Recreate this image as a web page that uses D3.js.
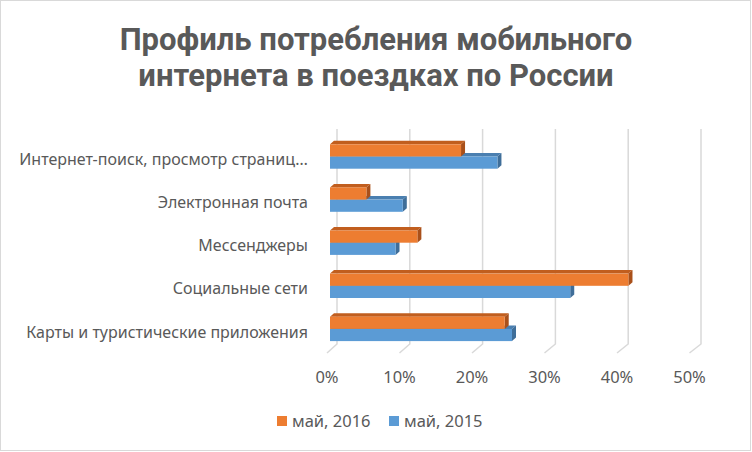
<!DOCTYPE html>
<html>
<head>
<meta charset="utf-8">
<script src="https://cdn.jsdelivr.net/npm/d3@7"></script>
<style>
  body { margin: 0; background: #fff; }
  text { fill: #595959; }
</style>
</head>
<body>
<div class="canvas"></div>
<script>
// data (top to bottom as shown)
const categories = [
  'Интернет-поиск, просмотр страниц…',
  'Электронная почта',
  'Мессенджеры',
  'Социальные сети',
  'Карты и туристические приложения'
];
const seriesNames = ['май, 2016', 'май, 2015'];
const may2016 = [0.18, 0.05, 0.12, 0.41, 0.24];
const may2015 = [0.23, 0.10, 0.09, 0.33, 0.25];
const ticks = [0, 0.1, 0.2, 0.3, 0.4, 0.5];

const dims = { width: 752, height: 452 };
const face = { '2016': '#ED7D31', '2015': '#5B9BD5' };
const top_ = { '2016': '#C15E1E', '2015': '#4A7FB0' };
const side = { '2016': '#A9501A', '2015': '#3F6E99' };
const depth = { dx: 4, dy: -3.5 };   // bar depth
const wall = { dx: 7, yTop: 129, yBot: 344 };  // back wall grid

const svg = d3.select('.canvas')
  .append('svg')
  .attr('width', dims.width)
  .attr('height', dims.height)
  .style('font-family', '"Noto Sans", sans-serif');

// chart border
svg.append('rect')
  .attr('x', 0.5).attr('y', 0.5)
  .attr('width', 750).attr('height', 450)
  .attr('fill', '#fff')
  .attr('stroke', '#d9d9d9');

// title
const title = svg.append('text')
  .attr('x', 376)
  .attr('text-anchor', 'middle')
  .style('font-family', 'Roboto, sans-serif')
  .style('font-weight', 'bold')
  .style('font-size', '31px');
title.append('tspan').attr('x', 376).attr('y', 50).text('Профиль потребления мобильного');
title.append('tspan').attr('x', 376).attr('y', 86).text('интернета в поездках по России');

// scales (bar front face)
const x = d3.scaleLinear().domain([0, 0.5]).range([330, 694]);
const xFloor = d3.scaleLinear().domain([0, 0.5]).range([327, 689.5]);

const y = d3.scaleBand()
  .domain(categories)
  .range([134.95, 350.45])
  .paddingInner(0.434)
  .paddingOuter(0.217);

const ySub = d3.scaleBand()
  .domain(['2016', '2015'])
  .range([0, y.bandwidth()]);

// gridlines on back wall + floor
const grid = svg.append('g');
ticks.forEach(t => {
  const xb = x(t) + wall.dx;
  grid.append('path')
    .attr('d', `M${xb},${wall.yTop}L${xb},${wall.yBot}L${xFloor(t)},${wall.yBot + 9}`)
    .attr('fill', 'none')
    .attr('stroke', '#d9d9d9')
    .attr('stroke-width', 1.5);
});

// x tick labels
svg.append('g')
  .selectAll('text')
  .data(ticks)
  .join('text')
    .attr('x', d => xFloor(d))
    .attr('y', 377)
    .attr('dy', '0.35em')
    .attr('text-anchor', 'middle')
    .style('font-size', '16.5px')
    .text(d3.format('.0%'));

// category labels
svg.append('g')
  .selectAll('text')
  .data(categories)
  .join('text')
    .attr('x', 308)
    .attr('y', d => y(d) + y.bandwidth() / 2 + 3)
    .attr('dy', '0.35em')
    .attr('text-anchor', 'end')
    .style('font-size', '16px')
    .text(d => d);

// bars: blue first so orange covers its top face
const rows = [];
categories.forEach((c, i) => {
  rows.push({ cat: c, key: '2015', value: may2015[i] });
  rows.push({ cat: c, key: '2016', value: may2016[i] });
});

const bar = svg.append('g')
  .selectAll('g')
  .data(rows)
  .join('g');

bar.each(function(d) {
  const g = d3.select(this);
  const x0 = x(0), x1 = x(d.value);
  const y0 = y(d.cat) + ySub(d.key);
  const h = ySub.bandwidth();
  const { dx, dy } = depth;
  // top face
  g.append('path')
    .attr('d', `M${x0},${y0}L${x0 + dx},${y0 + dy}L${x1 + dx},${y0 + dy}L${x1},${y0}Z`)
    .attr('fill', top_[d.key]);
  // end face
  g.append('path')
    .attr('d', `M${x1},${y0}L${x1 + dx},${y0 + dy}L${x1 + dx},${y0 + h + dy}L${x1},${y0 + h}Z`)
    .attr('fill', side[d.key]);
  // front face
  g.append('rect')
    .attr('x', x0).attr('y', y0)
    .attr('width', x1 - x0).attr('height', h)
    .attr('fill', face[d.key]);
});

// legend
const legend = svg.append('g');
const legendX = [277, 389];
seriesNames.forEach((name, i) => {
  const key = i === 0 ? '2016' : '2015';
  legend.append('rect')
    .attr('x', legendX[i]).attr('y', 416)
    .attr('width', 10).attr('height', 10)
    .attr('fill', face[key]);
  legend.append('text')
    .attr('x', legendX[i] + 15)
    .attr('y', 421)
    .attr('dy', '0.35em')
    .style('font-size', '16.5px')
    .text(name);
});
</script>
</body>
</html>
